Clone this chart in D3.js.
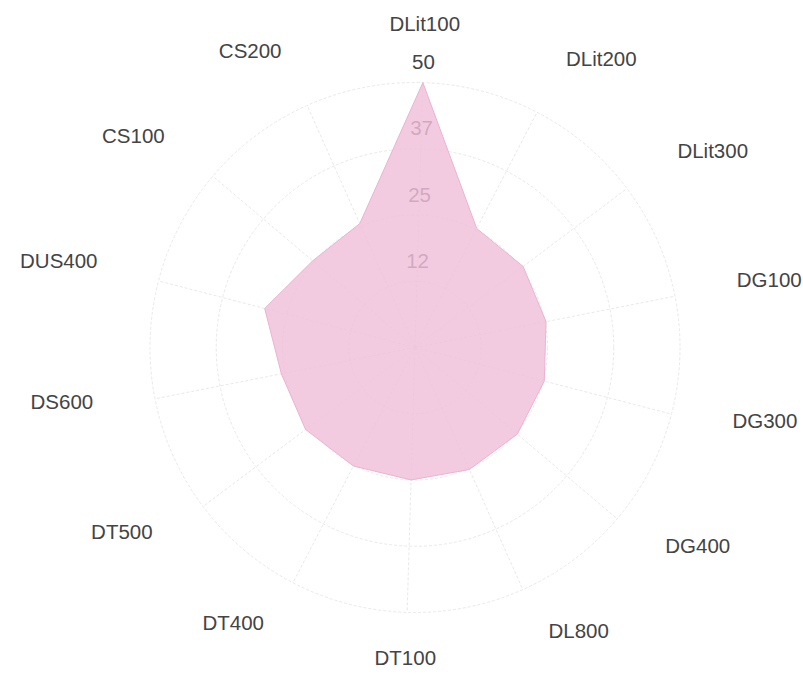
<!DOCTYPE html>
<html>
<head>
<meta charset="utf-8">
<script src="https://cdn.jsdelivr.net/npm/d3@7"></script>
<style>
  html, body { margin: 0; padding: 0; background: #ffffff; }
  svg { display: block; }
</style>
</head>
<body>
<div id="chart"></div>
<script>
const categories = ["DLit100","DLit200","DLit300","DG100","DG300","DG400","DL800","DT100","DT400","DT500","DS600","DUS400","CS100","CS200"];
const values = [50, 25.3, 25.5, 25.2, 25.2, 25.3, 25.2, 25.0, 25.2, 25.8, 25.7, 29.3, 25.3, 25.6];
const tickValues = [12.5, 25, 37.5, 50];
const tickLabels = ["12", "25", "37", "50"];
const maxValue = 50;

const W = 803, H = 682;
const cx = 415, cy = 347.5, R = 265;
const rot = 1.7 * Math.PI / 180;
const n = categories.length;

const svg = d3.select("#chart").append("svg").attr("width", W).attr("height", H);
const g = svg.append("g").attr("transform", `translate(${cx},${cy})`);

const angle = d3.scaleLinear().domain([0, n]).range([rot, rot + 2 * Math.PI]);
const r = d3.scaleLinear().domain([0, maxValue]).range([0, R]);

// grid rings
g.append("g").selectAll("circle").data(tickValues).join("circle")
  .attr("r", d => r(d))
  .attr("fill", "none")
  .attr("stroke", "#e9e9e9")
  .attr("stroke-width", 1)
  .attr("stroke-dasharray", "3,2");

// radial spokes
g.append("g").selectAll("line").data(categories).join("line")
  .attr("x1", 0).attr("y1", 0)
  .attr("x2", (d, i) => r(maxValue) * Math.sin(angle(i)))
  .attr("y2", (d, i) => -r(maxValue) * Math.cos(angle(i)))
  .attr("stroke", "#e9e9e9")
  .attr("stroke-width", 1)
  .attr("stroke-dasharray", "3,2");

// tick labels (under the area)
g.append("g").selectAll("text").data(tickValues).join("text")
  .attr("x", d => (r(d) + 21) * Math.sin(rot))
  .attr("y", d => -(r(d) + 21) * Math.cos(rot))
  .attr("text-anchor", "middle")
  .attr("dominant-baseline", "central")
  .attr("font-family", "'Liberation Sans', Arial, sans-serif")
  .attr("font-size", "20.5px")
  .attr("fill", "#444444")
  .text((d, i) => tickLabels[i]);

// area
const radial = d3.lineRadial()
  .angle((d, i) => angle(i))
  .radius(d => r(d))
  .curve(d3.curveLinearClosed);

g.append("path")
  .datum(values)
  .attr("d", radial)
  .attr("fill", "#f0c0da")
  .attr("fill-opacity", 0.82)
  .attr("stroke", "#ebb3d0")
  .attr("stroke-width", 1);

// category labels
const Rx = 328, Ry = 317.5, yOff = -7;
g.append("g").selectAll("text").data(categories).join("text")
  .attr("x", (d, i) => Rx * Math.sin(angle(i)))
  .attr("y", (d, i) => -Ry * Math.cos(angle(i)) + yOff)
  .attr("text-anchor", (d, i) => {
    const s = Math.sin(angle(i));
    return Math.abs(s) < 0.15 ? "middle" : (s > 0 ? "start" : "end");
  })
  .attr("dominant-baseline", "central")
  .attr("font-family", "'Liberation Sans', Arial, sans-serif")
  .attr("font-size", "20.5px")
  .attr("fill", "#444444")
  .text(d => d);
</script>
</body>
</html>
